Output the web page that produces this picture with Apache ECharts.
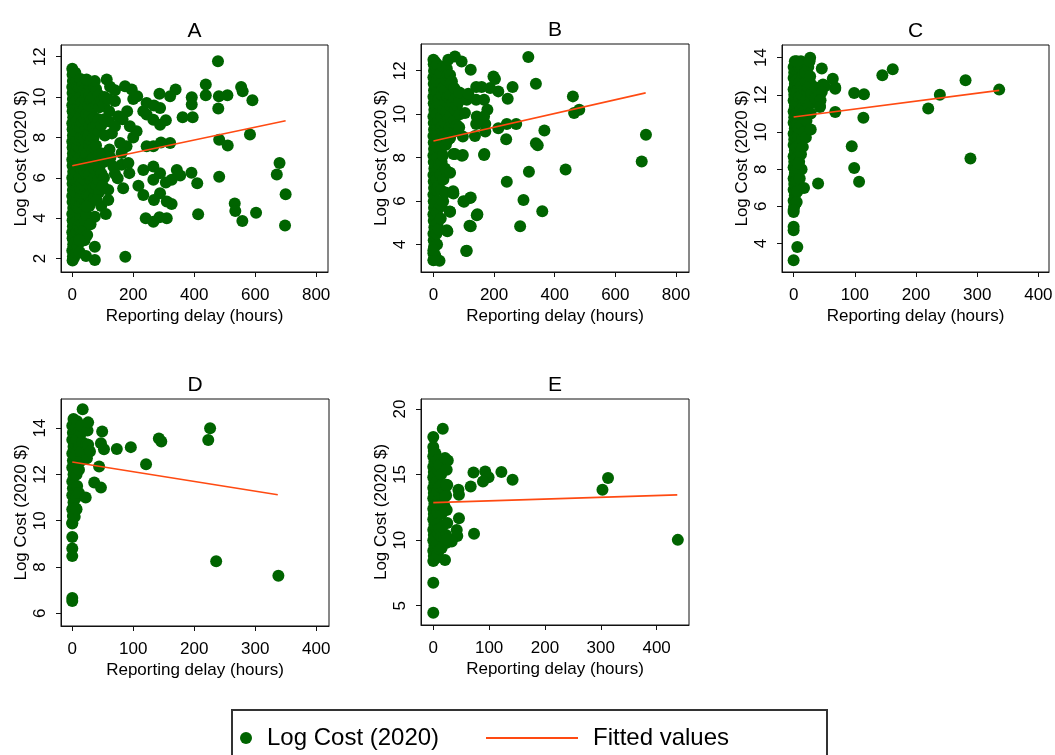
<!DOCTYPE html>
<html>
<head>
<meta charset="utf-8">
<title>Log cost vs reporting delay</title>
<script src="https://cdn.jsdelivr.net/npm/echarts@6/dist/echarts.min.js"></script>
<style>
  html, body { margin: 0; padding: 0; background: #fff; }
  #chart { width: 1055px; height: 755px; }
</style>
</head>
<body>
<div id="chart"></div>
<script>
// ---- Data: [reporting delay (hours), log cost (2020 $)] ----
const pointsA = [
  [1,1.9],[2,2.1],[0,2.4],[3,2.7],[1,3.0],[0,3.3],[2,3.6],[1,3.9],[0,4.2],[3,4.5],[1,4.8],[0,5.1],[2,5.4],[1,5.7],[0,6.0],[3,6.3],[1,6.6],[0,6.9],[2,7.2],[1,7.5],[0,7.8],[2,8.1],[1,8.4],[0,8.7],[3,9.0],[1,9.3],[0,9.6],[2,9.9],[1,10.2],[0,10.5],[2,10.8],[1,11.1],[0,11.4],
  [6,2.05],[5,2.6],[7,3.15],[6,3.7],[5,4.25],[7,4.8],[6,5.35],[5,5.9],[7,6.45],[6,7.0],[5,7.55],[7,8.1],[6,8.65],[5,9.2],[7,9.75],[6,10.3],[5,10.85],
  [12,2.3],[10,2.8],[14,3.3],[11,3.8],[13,4.3],[12,4.8],[10,5.3],[14,5.8],[12,6.3],[11,6.8],[13,7.3],[12,7.8],[10,8.3],[14,8.8],[12,9.3],[11,9.8],[13,10.3],[12,10.8],[10,11.2],
  [18,2.6],[19,3.6],[17,4.55],[18,5.55],[19,6.55],[17,7.55],[18,8.55],[19,9.55],[17,10.55],
  [24,3.0],[26,3.5],[25,4.0],[23,4.5],[27,5.0],[25,5.5],[24,6.0],[26,6.5],[25,7.0],[23,7.5],[27,8.0],[25,8.5],[24,9.0],[26,9.5],[25,10.0],[23,10.5],[27,10.9],
  [32,3.75],[33,4.75],[31,5.75],[32,6.75],[33,7.75],[31,8.75],[32,9.75],[33,10.6],
  [38,3.4],[41,3.9],[40,4.4],[39,4.9],[42,5.4],[40,5.9],[38,6.4],[41,6.9],[40,7.4],[39,7.9],[42,8.4],[40,8.9],[38,9.4],[41,9.9],[40,10.4],[44,10.7],
  [47,4.15],[48,5.15],[46,6.15],[47,7.15],[48,8.15],[46,9.15],[47,10.15],
  [56,4.6],[54,5.1],[57,5.6],[55,6.1],[53,6.6],[56,7.1],[55,7.6],[54,8.1],[57,8.6],[55,9.1],[53,9.6],[56,10.1],[55,10.6],
  [62,4.85],[63,5.85],[61,6.85],[62,7.85],[63,8.85],[61,9.85],
  [71,5.0],[69,5.5],[72,6.0],[70,6.5],[68,7.0],[71,7.5],[70,8.0],[69,8.5],[72,9.0],[70,9.5],[68,10.0],[71,10.5],
  [79,5.6],[80,6.6],[78,7.6],[79,8.6],[80,9.6],[78,10.4],
  [88,5.3],[86,5.9],[89,6.5],[87,7.1],[88,8.3],[86,8.9],[89,9.5],[87,10.1],
  [96,6.2],[97,7.2],[95,8.6],[96,9.8],
  [104,6.0],[106,6.8],[107,8.1],[105,8.9],[104,9.6],[106,10.0],
  [120,6.9],[122,7.4],[119,8.8],[121,9.3],[118,9.9],
  [200,9.9],[180,9.3],[165,8.9],[200,8.0],[140,9.8],[130,8.2],[125,7.0],[140,6.2],[100,5.6],[95,4.6],[110,4.2],[60,3.7],[40,2.9],[25,2.3],
  [478,11.78],[438,10.62],[438,10.09],[554,10.5],[559,10.29],[591,9.84],[509,10.09],[481,10.04],[392,9.99],[392,9.63],[395,9.0],[362,9.0],
  [339,10.37],[321,10.04],[286,10.16],[479,9.43],[583,8.14],[482,7.89],[510,7.6],[680,6.73],[671,6.16],[700,5.18],[698,3.63],[603,4.27],
  [533,4.72],[535,4.35],[558,3.86],[482,6.05],[413,4.19],[410,5.73],[391,6.25],[354,6.11],[343,6.39],[326,5.9],[307,5.76],[326,4.7],
  [310,4.82],[310,3.99],[286,4.04],[266,3.82],[241,3.99],[174,2.08],[74,2.58],[74,1.92],[45,2.12],[288,5.23],[268,4.9],[233,5.15],
  [217,5.6],[266,6.56],[288,6.23],[233,6.39],[266,5.9],[244,7.56],[266,7.56],[291,7.75],[321,7.72],[244,9.13],[233,9.3],[266,8.88],
  [288,8.63],[307,8.85],[244,9.71],[268,9.58],[288,9.46],[213,10.04],[195,10.37],[173,10.54],[140,10.34],[124,10.51],[113,10.87],[74,10.79],
  [47,10.87],[151,9.05],[140,8.55],[211,8.3],[189,8.55],[178,7.56],[157,7.72],[162,7.23],[162,6.64],[184,6.73],[187,6.23],[167,5.48],
  [135,6.56],[149,5.98],[118,5.4],[118,4.9],[80,4.9],[74,4.07],[47,4.57],[49,3.16],[23,2.91]
];
const fitA = [[0,6.6],[700,8.83]];

const pointsB = [
  [1,3.3],[0,3.6],[2,3.9],[1,4.2],[0,4.5],[3,4.8],[1,5.1],[0,5.4],[2,5.7],[1,6.0],[0,6.3],[2,6.6],[1,6.9],[0,7.2],[3,7.5],[1,7.8],[0,8.1],[2,8.4],[1,8.7],[0,9.0],[2,9.3],[1,9.6],[0,9.9],[3,10.2],[1,10.5],[0,10.8],[2,11.1],[1,11.4],[0,11.7],[2,12.0],[1,12.3],[0,12.5],
  [6,3.5],[5,4.1],[7,4.7],[6,5.3],[5,5.9],[7,6.5],[6,7.1],[5,7.7],[7,8.3],[6,8.9],[5,9.5],[7,10.1],[6,10.7],[5,11.3],[7,11.9],[6,12.4],
  [12,4.0],[10,4.5],[14,5.0],[11,5.5],[13,6.0],[12,6.5],[10,7.0],[14,7.5],[12,8.0],[11,8.5],[13,9.0],[12,9.5],[10,10.0],[14,10.5],[12,11.0],[11,11.5],[13,12.0],[12,12.3],
  [18,4.7],[19,5.7],[17,6.7],[18,7.7],[19,8.7],[17,9.7],[18,10.7],[19,11.7],
  [24,5.2],[26,5.8],[25,6.5],[23,7.2],[27,7.8],[25,8.4],[24,8.9],[26,9.4],[25,9.9],[23,10.4],[27,10.9],[25,11.4],[24,11.9],
  [32,6.0],[33,7.0],[31,8.1],[32,9.2],[33,10.2],[31,11.2],[32,12.2],
  [40,6.4],[38,7.5],[41,8.6],[40,9.1],[39,9.6],[42,10.1],[40,10.6],[38,11.1],[41,11.6],[44,12.1],
  [47,8.8],[48,9.8],[46,10.8],[47,11.8],
  [55,8.9],[53,9.4],[56,9.9],[55,10.4],[54,10.9],[57,11.4],[55,11.8],
  [62,9.6],[63,10.5],[61,11.5],
  [70,9.2],[68,9.7],[71,10.2],[70,10.7],[69,11.2],
  [77,9.5],[78,10.4],
  [85,9.4],[87,10.0],[84,10.6],[86,11.0],
  [66,8.17],[94,8.09],[44,7.38],[65,6.45],[54,5.52],[44,4.66],[20,3.26],[99,6.0],[121,6.15],[143,5.35],[119,4.87],[110,3.72],[168,8.17],
  [313,12.63],[338,11.4],[460,10.82],[464,10.05],[481,10.2],[701,9.05],[687,7.82],[366,9.25],[338,8.66],[344,8.57],[240,8.85],
  [273,9.55],[242,9.55],[214,9.35],[261,11.25],[245,10.71],[214,11.05],[198,11.74],[203,11.62],[187,11.2],[159,11.25],[141,11.25],
  [167,10.66],[178,10.2],[167,9.89],[171,9.55],[171,9.2],[141,10.66],[143,9.89],[141,9.55],[110,10.66],[104,10.05],[115,10.94],[123,12.05],
  [93,12.43],[71,12.66],[49,12.51],[137,9.0],[97,8.97],[167,8.12],[97,8.12],[71,8.17],
  [242,6.89],[315,7.35],[436,7.46],[297,6.05],[359,5.54],[286,4.85],[123,6.17],[101,5.97],[145,5.4],[123,4.85],[46,4.62],[108,3.71],
  [55,7.31],[66,6.35],[55,5.51],[0,3.28],[0,3.74]
];
const fitB = [[0,8.77],[700,10.98]];

const pointsC = [
  [0,5.7],[1,6.0],[0,6.3],[2,6.6],[0,6.9],[1,7.2],[0,7.5],[2,7.8],[0,8.1],[1,8.4],[0,8.7],[2,9.0],[0,9.3],[1,9.6],[0,9.9],[2,10.2],[0,10.5],[1,10.8],[0,11.1],[2,11.4],[0,11.7],[1,12.0],[0,12.3],[2,12.6],[0,12.9],[1,13.2],[0,13.5],[2,13.8],
  [3,6.15],[4,6.75],[3,7.35],[4,7.95],[3,8.55],[4,9.15],[3,9.75],[4,10.35],[3,10.95],[4,11.55],[3,12.15],[4,12.75],[3,13.35],
  [6,6.8],[5,7.4],[7,8.0],[6,8.6],[5,9.2],[7,9.8],[6,10.4],[5,11.0],[7,11.6],[6,12.2],[5,12.8],[7,13.4],[6,13.7],
  [10,7.5],[9,8.4],[10,9.3],[9,10.2],[10,11.1],[9,11.9],[10,12.7],[9,13.5],
  [13,8.0],[12,8.8],[14,9.6],[13,10.4],[12,11.0],[14,11.5],[13,12.0],[12,12.5],[14,13.0],[13,13.5],[12,13.8],
  [17,10.0],[16,11.4],[17,12.3],[16,13.1],
  [20,9.7],[21,10.6],[19,11.2],[20,11.7],[22,12.2],[20,12.7],[19,13.2],
  [24,11.4],[24,12.4],[24,13.5],
  [28,11.0],[27,11.6],[29,12.1],[28,12.6],[27,13.0],
  [35,11.8],[36,12.4],[48,12.56],[43,11.4],[27,14.0],[68,12.39],
  [336,12.28],[281,12.78],[239,12.01],[220,11.26],[289,8.57],[162,13.37],[145,13.05],[99,12.1],[115,12.03],[114,10.77],
  [95,9.23],[99,8.07],[107,7.33],[68,12.33],[64,12.87],[68,11.08],[46,13.41],[51,12.46],[46,12.15],[44,11.71],[43,11.35],
  [26,13.8],[5,13.8],[28,10.13],[15,9.2],[17,6.99],[40,7.23],[8,8.3],[5,6.24],[0,3.1],[6,3.82],[0,4.72],[0,4.9],[0,5.8]
];
const fitC = [[0,10.81],[336,12.24]];

const pointsD = [
  [0,9.9],[1,10.2],[0,10.5],[2,10.8],[0,11.1],[1,11.4],[0,11.7],[2,12.0],[0,12.3],[1,12.6],[0,12.9],[2,13.2],[0,13.5],[1,13.8],[0,14.1],[2,14.4],
  [3,10.35],[4,10.95],[3,11.55],[4,12.15],[3,12.75],[4,13.35],[3,13.95],
  [7,10.5],[6,11.0],[8,11.5],[7,12.0],[6,12.5],[8,13.0],[7,13.5],[6,14.0],[8,14.3],
  [11,11.2],[11,12.2],[11,13.2],[11,13.9],
  [15,12.6],[14,13.0],[16,13.4],[15,13.8],[14,14.1],
  [24,12.7],[23,13.3],[25,13.9],
  [17,14.82],[26,14.25],[226,14.0],[223,13.49],[142,13.55],[146,13.42],[96,13.18],[73,13.1],[49,13.86],[47,13.35],[52,13.09],
  [121,12.44],[44,12.34],[36,11.65],[47,11.43],[22,11.0],[236,8.25],[338,7.62],[26,13.28],[29,12.99],
  [0,6.66],[0,6.53],[0,8.47],[0,8.8],[0,9.3],[0,9.88],[4,10.17],[6,10.53]
];
const fitD = [[0,12.54],[337,11.12]];

const pointsE = [
  [0,8.4],[1,8.8],[0,9.2],[2,9.6],[0,10.0],[1,10.4],[0,10.8],[2,11.2],[0,11.6],[1,12.0],[0,12.4],[2,12.8],[0,13.2],[1,13.6],[0,14.0],[2,14.4],[0,14.8],[1,15.2],[0,15.6],[2,16.0],[0,16.4],[1,16.8],[0,17.1],
  [4,8.6],[4,9.4],[4,10.2],[4,11.0],[4,11.8],[4,12.6],[4,13.4],[4,14.2],[4,15.0],[4,15.8],[4,16.6],
  [8,8.9],[7,9.7],[9,10.5],[8,11.3],[7,12.1],[9,12.9],[8,13.7],[7,14.5],[9,15.3],[8,16.1],
  [11,9.3],[11,10.9],[11,12.5],[11,14.1],[11,15.7],
  [15,9.4],[14,10.3],[16,11.0],[15,12.0],[14,12.7],[16,13.3],[15,14.2],[14,15.0],
  [20,10.1],[20,12.6],[20,13.8],
  [24,9.8],[23,10.4],[25,11.3],[24,12.3],[23,13.4],[25,14.2],
  [17,18.5],[0,17.86],[21,16.26],[26,16.08],[24,15.37],[72,15.16],[93,15.24],[99,14.8],[89,14.47],[122,15.19],[142,14.6],
  [67,14.09],[45,13.84],[46,13.46],[303,13.84],[313,14.73],[438,10.02],[46,11.67],[42,10.78],[43,10.32],[33,9.89],[73,10.48],
  [21,8.49],[0,6.76],[0,4.47],[23,14.22],[21,13.33],[24,10.04]
];
const fitE = [[0,12.86],[437,13.45]];

// ---- Tick labels ----
const xTicksA = [0, 200, 400, 600, 800];
const yTicksA = [2, 4, 6, 8, 10, 12];
const xTicksB = [0, 200, 400, 600, 800];
const yTicksB = [4, 6, 8, 10, 12];
const xTicksC = [0, 100, 200, 300, 400];
const yTicksC = [4, 6, 8, 10, 12, 14];
const xTicksD = [0, 100, 200, 300, 400];
const yTicksD = [6, 8, 10, 12, 14];
const xTicksE = [0, 100, 200, 300, 400];
const yTicksE = [5, 10, 15, 20];

const panelTitles = ['A', 'B', 'C', 'D', 'E'];
const scatterName = 'Log Cost (2020)';
const fitName = 'Fitted values';
const xTitle = 'Reporting delay (hours)';
const yTitle = 'Log Cost (2020 $)';

// ---- Layout of each panel (plot frame in px and the axis extents) ----
const panels = [
  { points: pointsA, fit: fitA, xTicks: xTicksA, yTicks: yTicksA, box: [61, 45, 267, 227], x: [-37, 839], y: [1.33, 12.58] },
  { points: pointsB, fit: fitB, xTicks: xTicksB, yTicks: yTicksB, box: [421, 44, 268, 228], x: [-41, 843], y: [2.74, 13.23] },
  { points: pointsC, fit: fitC, xTicks: xTicksC, yTicks: yTicksC, box: [782, 45, 267, 227], x: [-19, 417.4], y: [2.47, 14.68] },
  { points: pointsD, fit: fitD, xTicks: xTicksD, yTicks: yTicksD, box: [61, 399, 268, 227], x: [-18.5, 421], y: [5.45, 15.26] },
  { points: pointsE, fit: fitE, xTicks: xTicksE, yTicks: yTicksE, box: [421, 399, 268, 226], x: [-22, 458], y: [3.53, 20.76] }
];

const FONT = '"Liberation Sans", Arial, Helvetica, sans-serif';
const GREEN = '#006400';
const ORANGE = '#ff4a12';
const INK = '#111';

const grids = [], xAxes = [], yAxes = [], titles = [], series = [];
panels.forEach((p, i) => {
  const [left, top, width, height] = p.box;
  grids.push({
    left, top, width, height,
    show: true, borderColor: INK, borderWidth: 1, backgroundColor: '#fff',
    containLabel: false, outerBoundsMode: 'none'
  });
  xAxes.push({
    type: 'value', gridIndex: i, min: p.x[0], max: p.x[1],
    axisLine: { show: true, onZero: false, lineStyle: { color: INK, width: 1 } },
    axisTick: { show: true, inside: false, length: 5, customValues: p.xTicks, lineStyle: { color: INK } },
    axisLabel: { customValues: p.xTicks, margin: 15, fontSize: 17, color: '#000', fontFamily: FONT },
    splitLine: { show: false },
    name: xTitle, nameLocation: 'middle', nameGap: 36,
    nameTextStyle: { fontSize: 17, color: '#000', fontFamily: FONT }
  });
  yAxes.push({
    type: 'value', gridIndex: i, min: p.y[0], max: p.y[1],
    axisLine: { show: true, onZero: false, lineStyle: { color: INK, width: 1 } },
    axisTick: { show: true, inside: false, length: 5, customValues: p.yTicks, lineStyle: { color: INK } },
    axisLabel: { customValues: p.yTicks, rotate: 90, margin: 12, fontSize: 17, color: '#000', fontFamily: FONT },
    splitLine: { show: false },
    name: yTitle, nameLocation: 'middle', nameGap: 31,
    nameTextStyle: { fontSize: 17, color: '#000', fontFamily: FONT }
  });
  titles.push({
    text: panelTitles[i], left: left + width / 2, top: top - 24, textAlign: 'center', padding: 0,
    textStyle: { fontSize: 21, fontWeight: 'normal', color: '#000', fontFamily: FONT }
  });
  series.push({
    name: scatterName, type: 'scatter', xAxisIndex: i, yAxisIndex: i,
    data: p.points, symbol: 'circle', symbolSize: 12,
    itemStyle: { color: GREEN, opacity: 1 }, emphasis: { disabled: true }, z: 2
  });
  series.push({
    name: fitName, type: 'line', xAxisIndex: i, yAxisIndex: i,
    data: p.fit, showSymbol: false, symbol: 'none',
    lineStyle: { color: ORANGE, width: 1.6 }, itemStyle: { color: ORANGE },
    emphasis: { disabled: true }, z: 3
  });
});

const chart = echarts.init(document.getElementById('chart'), null, { renderer: 'canvas' });
chart.setOption({
  animation: false,
  backgroundColor: '#fff',
  textStyle: { fontFamily: FONT },
  grid: grids,
  xAxis: xAxes,
  yAxis: yAxes,
  title: titles,
  legend: [
    {
      data: [scatterName], left: 240, top: 726, padding: 0,
      icon: 'circle', itemWidth: 12, itemHeight: 12, selectedMode: false,
      textStyle: { fontSize: 24, color: '#000', fontFamily: FONT, padding: [0, 0, 0, 10] }
    },
    {
      data: [fitName], left: 486, top: 726, padding: 0,
      icon: 'rect', itemWidth: 92, itemHeight: 2, selectedMode: false,
      textStyle: { fontSize: 24, color: '#000', fontFamily: FONT, padding: [0, 0, 0, 10] }
    }
  ],
  graphic: [
    {
      type: 'rect', left: 231, top: 709, z: -1, silent: true,
      shape: { width: 595, height: 60 },
      style: { fill: '#fff', stroke: '#333', lineWidth: 2 }
    }
  ],
  series
});
</script>
</body>
</html>
